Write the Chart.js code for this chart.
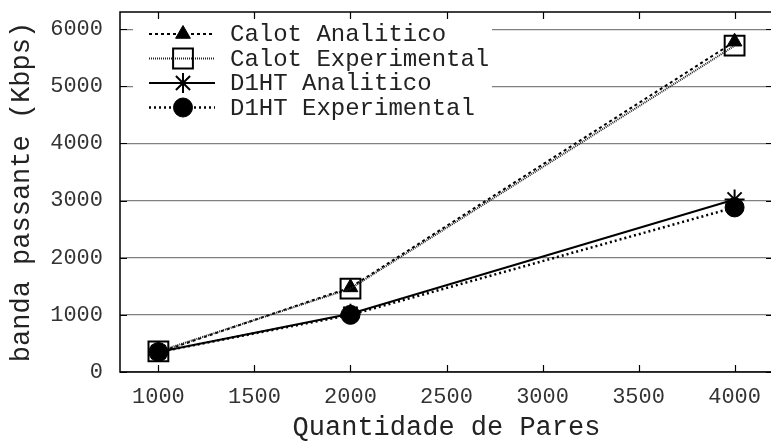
<!DOCTYPE html>
<html>
<head>
<meta charset="utf-8">
<script src="https://cdn.jsdelivr.net/npm/chart.js@4.4.0/dist/chart.umd.min.js"></script>
<style>
    html, body { margin: 0; padding: 0; background: #fff; overflow: hidden; }
    #wrap { width: 773px; height: 445px; }
</style>
</head>
<body>
<div id="wrap"><canvas id="bandaChart" width="773" height="445"></canvas></div>
<script>
// Data
const peers = [1000, 2000, 4000];
const calotAnalitico = [340, 1480, 5780];
const calotExperimental = [360, 1460, 5710];
const d1htAnalitico = [350, 1020, 3020];
const d1htExperimental = [350, 1000, 2880];

const xTicks = [1000, 1500, 2000, 2500, 3000, 3500, 4000];
const yTicks = [0, 1000, 2000, 3000, 4000, 5000, 6000];
const seriesLabels = ['Calot Analitico', 'Calot Experimental', 'D1HT Analitico', 'D1HT Experimental'];

const FONT = "'Liberation Mono', 'DejaVu Sans Mono', monospace";

function toPoints(values) {
    return peers.map((p, i) => ({ x: p, y: values[i] }));
}

// Frame, inward ticks and the key box (gnuplot style)
const framePlugin = {
    id: 'frame',
    beforeDatasetsDraw(chart) {
        const ctx = chart.ctx;
        ctx.save();
        ctx.fillStyle = '#ffffff';
        ctx.fillRect(133, 14, 359, 113);
        ctx.restore();
    },
    afterDatasetsDraw(chart) {
        const ctx = chart.ctx;
        const area = chart.chartArea;
        const xs = chart.scales.x;
        const ys = chart.scales.y;
        ctx.save();
        ctx.strokeStyle = '#000';
        ctx.lineWidth = 1.5;
        ctx.setLineDash([]);
        ctx.strokeRect(area.left, area.top, area.right - area.left, area.bottom - area.top);
        ctx.lineWidth = 1.2;
        ctx.beginPath();
        xTicks.forEach(v => {
            const px = Math.round(xs.getPixelForValue(v)) + 0.5;
            ctx.moveTo(px, area.bottom); ctx.lineTo(px, area.bottom - 7);
            ctx.moveTo(px, area.top); ctx.lineTo(px, area.top + 7);
        });
        yTicks.forEach(v => {
            const py = Math.round(ys.getPixelForValue(v)) + 0.5;
            ctx.moveTo(area.left, py); ctx.lineTo(area.left + 7, py);
            ctx.moveTo(area.right, py); ctx.lineTo(area.right - 7, py);
        });
        ctx.stroke();

        // Key
        ctx.font = '24px ' + FONT;
        ctx.textBaseline = 'middle';
        ctx.textAlign = 'left';
        chart.data.datasets.forEach((ds, i) => {
            const y = 34 + i * 24.5;
            ctx.strokeStyle = ds.borderColor;
            ctx.lineWidth = ds.borderWidth;
            ctx.setLineDash(ds.borderDash || []);
            ctx.beginPath();
            ctx.moveTo(149, y); ctx.lineTo(215, y);
            ctx.stroke();
            ctx.setLineDash([]);
            ctx.strokeStyle = '#000';
            ctx.fillStyle = ds.pointBackgroundColor;
            ctx.lineWidth = ds.pointBorderWidth;
            Chart.helpers.drawPoint(ctx, {
                pointStyle: ds.pointStyle,
                radius: ds.pointRadius,
                rotation: 0,
                borderWidth: ds.pointBorderWidth
            }, 183, y);
            ctx.fillStyle = '#222';
            ctx.fillText(ds.label, 230, y + 1);
        });
        ctx.restore();
    }
};

const canvas = document.getElementById('bandaChart');
const bandaChart = new Chart(canvas.getContext('2d'), {
    type: 'line',
    data: {
        datasets: [
            {
                label: seriesLabels[0],
                data: toPoints(calotAnalitico),
                borderColor: '#000',
                borderWidth: 2,
                borderDash: [3, 3],
                pointStyle: 'triangle',
                pointRadius: 8.5,
                pointBackgroundColor: '#000',
                pointBorderColor: '#000',
                pointBorderWidth: 1,
                order: 4
            },
            {
                label: seriesLabels[1],
                data: toPoints(calotExperimental),
                borderColor: '#222',
                borderWidth: 2,
                borderDash: [1, 1],
                pointStyle: 'rect',
                pointRadius: 14,
                pointBackgroundColor: 'rgba(0,0,0,0)',
                pointBorderColor: '#000',
                pointBorderWidth: 2,
                order: 3
            },
            {
                label: seriesLabels[2],
                data: toPoints(d1htAnalitico),
                borderColor: '#000',
                borderWidth: 2,
                borderDash: [],
                pointStyle: 'star',
                pointRadius: 10,
                pointBackgroundColor: '#000',
                pointBorderColor: '#000',
                pointBorderWidth: 2,
                order: 2
            },
            {
                label: seriesLabels[3],
                data: toPoints(d1htExperimental),
                borderColor: '#000',
                borderWidth: 2.5,
                borderDash: [2, 3],
                pointStyle: 'circle',
                pointRadius: 9.5,
                pointBackgroundColor: '#000',
                pointBorderColor: '#000',
                pointBorderWidth: 1,
                order: 1
            }
        ]
    },
    options: {
        responsive: false,
        animation: false,
        devicePixelRatio: 1,
        layout: { autoPadding: false, padding: { top: 12, right: 0, left: 0, bottom: 0 } },
        plugins: {
            legend: { display: false },
            tooltip: { enabled: false }
        },
        elements: { line: { tension: 0 } },
        scales: {
            x: {
                type: 'linear',
                min: 800,
                max: 4200,
                afterBuildTicks: scale => { scale.ticks = xTicks.map(v => ({ value: v })); },
                afterFit: scale => {
                    scale.height = 73;
                    scale.paddingLeft = 0;
                    scale.paddingRight = 0;
                    scale.paddingTop = 0;
                    scale.paddingBottom = 0;
                },
                grid: { display: false, drawTicks: false },
                border: { display: false },
                ticks: {
                    color: '#333',
                    padding: 12,
                    maxRotation: 0,
                    callback: v => String(v),
                    font: { family: FONT, size: 22 }
                },
                title: {
                    display: true,
                    text: 'Quantidade de Pares',
                    color: '#222',
                    padding: { top: 0, bottom: 3.5 },
                    font: { family: FONT, size: 27, lineHeight: 1 }
                }
            },
            y: {
                type: 'linear',
                min: 0,
                max: 6300,
                afterBuildTicks: scale => { scale.ticks = yTicks.map(v => ({ value: v })); },
                afterFit: scale => {
                    scale.width = 120;
                    scale.paddingLeft = 0;
                    scale.paddingRight = 0;
                    scale.paddingTop = 0;
                    scale.paddingBottom = 0;
                },
                grid: { color: '#808080', lineWidth: 1.2, drawTicks: false },
                border: { display: false },
                ticks: {
                    color: '#333',
                    padding: 17,
                    callback: v => String(v),
                    font: { family: FONT, size: 22 }
                },
                title: {
                    display: true,
                    text: 'banda passante (Kbps)',
                    color: '#222',
                    padding: { top: 8.5, bottom: 0 },
                    font: { family: FONT, size: 27, lineHeight: 1 }
                }
            }
        }
    },
    plugins: [framePlugin]
});
</script>
</body>
</html>
